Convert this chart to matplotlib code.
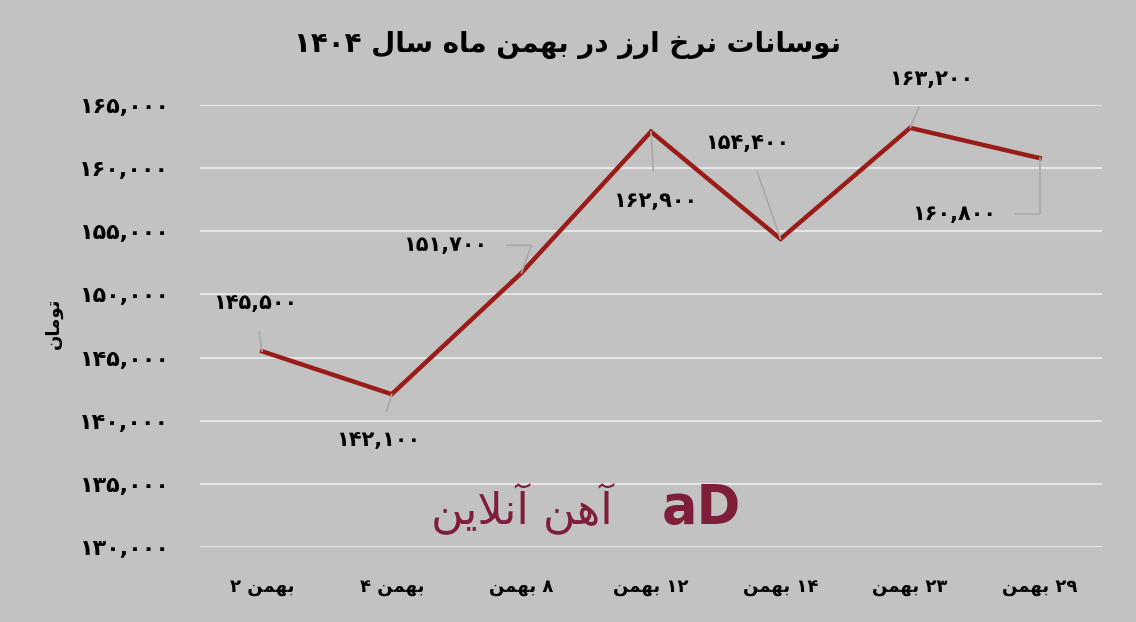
import matplotlib
matplotlib.use("Agg")
import matplotlib.pyplot as plt

# data
day_nums = ["۲", "۴", "۸", "۱۲", "۱۴", "۲۳", "۲۹"]
month = "بهمن"
num_left = [True, True, False, False, False, False, False]  # digit drawn left of word
rates = [145500, 142100, 151700, 162900, 154400, 163200, 160800]
yticks = [130000, 135000, 140000, 145000, 150000, 155000, 160000, 165000]
title = "نوسانات نرخ ارز در بهمن ماه سال ۱۴۰۴"
ylabel = "تومان"
brand = "آهن آنلاین"

# label offsets in points (dx, dy) and leader style
label_pos = [(-5, 35), (-10, -33), (-55, 20), (3, -50), (-24, 69), (15, 35), (-62, -40)]
label_conn = [None, None, "angle,angleA=0,angleB=70,rad=0", None, None, None,
              "angle,angleA=0,angleB=90,rad=0"]

# ---- tiny arabic shaper (matplotlib has no shaping / bidi) ----
FORMS = {
    'ا': (0xFE8D, 0xFE8E, None, None),
    'آ': (0xFE81, 0xFE82, None, None),
    'ب': (0xFE8F, 0xFE90, 0xFE91, 0xFE92),
    'ت': (0xFE95, 0xFE96, 0xFE97, 0xFE98),
    'خ': (0xFEA5, 0xFEA6, 0xFEA7, 0xFEA8),
    'د': (0xFEA9, 0xFEAA, None, None),
    'ر': (0xFEAD, 0xFEAE, None, None),
    'ز': (0xFEAF, 0xFEB0, None, None),
    'س': (0xFEB1, 0xFEB2, 0xFEB3, 0xFEB4),
    'ل': (0xFEDD, 0xFEDE, 0xFEDF, 0xFEE0),
    'م': (0xFEE1, 0xFEE2, 0xFEE3, 0xFEE4),
    'ن': (0xFEE5, 0xFEE6, 0xFEE7, 0xFEE8),
    'ه': (0xFEE9, 0xFEEA, 0xFEEB, 0xFEEC),
    'و': (0xFEED, 0xFEEE, None, None),
    'ی': (0xFBFC, 0xFBFD, 0xFBFE, 0xFBFF),
}


def shape_word(w):
    w = w.replace('لا', '\uFEFB')
    out = []
    for i, c in enumerate(w):
        if c == '\uFEFB':
            prev = w[i - 1] if i > 0 else ''
            joins = prev in FORMS and FORMS[prev][2] is not None
            out.append('\uFEFC' if joins else '\uFEFB')
            continue
        if c not in FORMS:
            out.append(c)
            continue
        prev = w[i - 1] if i > 0 else ''
        nxt = w[i + 1] if i + 1 < len(w) else ''
        jp = prev in FORMS and FORMS[prev][2] is not None
        jn = FORMS[c][2] is not None and (nxt in FORMS or nxt == '\uFEFB')
        iso, fin, ini, med = FORMS[c]
        if jp and jn:
            out.append(chr(med))
        elif jp:
            out.append(chr(fin))
        elif jn:
            out.append(chr(ini))
        else:
            out.append(chr(iso))
    return ''.join(out)[::-1]


def fa(s):
    # split into runs: arabic words vs everything else, lay out right to left
    runs, cur, kind = [], '', None
    for c in s:
        k = 'a' if c in FORMS else ('s' if c == ' ' else 'n')
        if k != kind and cur:
            runs.append((kind, cur))
            cur = ''
        cur += c
        kind = k
    if cur:
        runs.append((kind, cur))
    return ''.join(shape_word(t) if k == 'a' else t for k, t in runs[::-1])


def fa_num(v):
    return f"{v:,}".translate(str.maketrans("0123456789", "۰۱۲۳۴۵۶۷۸۹"))


xlabels = [(d + " " + fa(month)) if left else (fa(month) + " " + d)
           for d, left in zip(day_nums, num_left)]

plt.rcParams['font.family'] = ['DejaVu Sans']
plt.rcParams['font.weight'] = 'bold'

bg = "#c2c2c2"
fig = plt.figure(figsize=(11.36, 6.22), dpi=100, facecolor=bg)
ax = fig.add_axes([0.176, 0.1206, 0.794, 0.7104], facecolor=bg)

x = list(range(len(rates)))
ax.plot(x, rates, color="#9a1c18", lw=3.2, solid_joinstyle="miter", zorder=3)

for i, v in enumerate(rates):
    ax.annotate(fa_num(v), (x[i], v), xytext=label_pos[i], textcoords="offset points",
                ha="center", va="center", fontsize=15, fontweight="bold",
                arrowprops=dict(arrowstyle="-", color="#a8a8a8", lw=1.2,
                                shrinkA=12, shrinkB=0,
                                connectionstyle=label_conn[i] or "arc3"))

ax.set_xlim(-0.48, 6.48)
ax.set_ylim(130000, 165000)
ax.set_yticks(yticks)
ax.set_yticklabels([fa_num(t) for t in yticks], fontsize=16, fontweight="bold")
ax.set_xticks(x)
ax.set_xticklabels(xlabels, fontsize=13, fontweight="bold")
ax.tick_params(axis="y", length=0, pad=22)
ax.tick_params(axis="x", length=0, pad=22)
ax.grid(axis="y", color="#e6e6e6", lw=1.5)
ax.set_axisbelow(True)
for s in ax.spines.values():
    s.set_visible(False)

fig.text(0.5, 0.927, fa(title), ha="center", va="center", fontsize=20, fontweight="bold")
fig.text(0.047, 0.48, fa(ylabel), ha="center", va="center", rotation=90,
         fontsize=13, fontweight="bold")

# watermark
ax.text(2.0, 133100, fa(brand), ha="center", va="center", fontsize=32,
        color="#7e1e38", fontweight="normal", zorder=1)
ax.text(3.39, 133100, "aD", ha="center", va="center", fontsize=38,
        color="#7e1e38", fontweight="bold", zorder=1)

fig.savefig("out.png", dpi=100, facecolor=bg)
